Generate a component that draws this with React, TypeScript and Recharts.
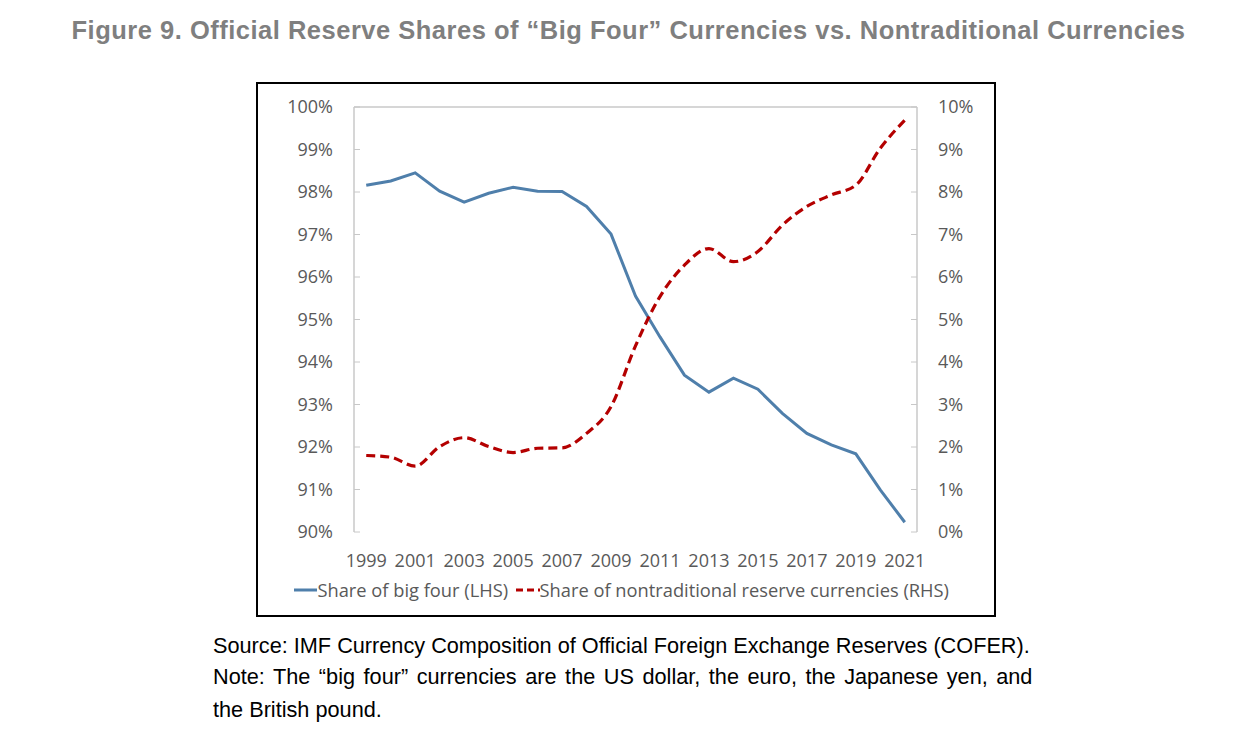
import React from "react";
import { Legend, Line, LineChart, ReferenceLine, XAxis, YAxis } from "recharts";

const YEARS = [
  1999, 2000, 2001, 2002, 2003, 2004, 2005, 2006, 2007, 2008, 2009, 2010,
  2011, 2012, 2013, 2014, 2015, 2016, 2017, 2018, 2019, 2020, 2021,
];
const BIG_FOUR = [
  98.16, 98.26, 98.45, 98.02, 97.76, 97.97, 98.11, 98.02, 98.01, 97.66, 97.01, 95.55,
  94.59, 93.69, 93.29, 93.62, 93.36, 92.79, 92.32, 92.05, 91.84, 90.99, 90.23,
];
const NONTRAD = [
  1.8, 1.76, 1.55, 2.01, 2.22, 2.01, 1.87, 1.97, 1.98, 2.32, 2.95, 4.38,
  5.54, 6.28, 6.67, 6.36, 6.6, 7.22, 7.66, 7.93, 8.16, 9.03, 9.69,
];
const LEFT_TICKS = [90, 91, 92, 93, 94, 95, 96, 97, 98, 99, 100];
const RIGHT_TICKS = [0, 1, 2, 3, 4, 5, 6, 7, 8, 9, 10];
const YEAR_LABELS = [1999, 2001, 2003, 2005, 2007, 2009, 2011, 2013, 2015, 2017, 2019, 2021];
const CATEGORY_EDGES = [...YEARS.map((y) => y - 0.5), 2021.5];

const data = YEARS.map((year, i) => ({
  year,
  bigFour: BIG_FOUR[i],
  nontrad: NONTRAD[i],
}));

const BLUE = "#4f7fab";
const RED = "#b40000";
const AXIS = "#c8c8c8";
const TEXT = "#595959";
const FONT = "'Open Sans', sans-serif";

function LegendContent() {
  return (
    <div
      style={{
        height: 40,
        display: "flex",
        justifyContent: "center",
        alignItems: "flex-start",
        paddingTop: 3,
        paddingRight: 28,
        boxSizing: "border-box",
        fontFamily: FONT,
        fontSize: 18.3,
        color: TEXT,
        lineHeight: "24px",
        whiteSpace: "nowrap",
      }}
    >
      <svg width={30} height={24}>
        <line x1={0} y1={12} x2={30} y2={12} stroke={BLUE} strokeWidth={3} />
      </svg>
      <span style={{ marginRight: 8 }}>Share of big four (LHS)</span>
      <svg width={30} height={24}>
        <line x1={0} y1={12} x2={30} y2={12} stroke={RED} strokeWidth={3} strokeDasharray="7 4" />
      </svg>
      <span>Share of nontraditional reserve currencies (RHS)</span>
    </div>
  );
}

export default function App() {
  return (
    <div style={{ position: "absolute", left: 0, top: 0, width: 1257, height: 750, background: "#fff" }}>
      <div
        style={{
          position: "absolute",
          left: 0,
          top: 16,
          width: 1257,
          textAlign: "center",
          fontFamily: "'Liberation Sans', Arial, sans-serif",
          fontWeight: "bold",
          fontSize: 25.5,
          letterSpacing: 0.5,
          color: "#7f7f7f",
          whiteSpace: "nowrap",
        }}
      >
        Figure 9. Official Reserve Shares of “Big Four” Currencies vs. Nontraditional Currencies
      </div>

      <div
        style={{
          position: "absolute",
          left: 256,
          top: 82,
          width: 740,
          height: 535,
          border: "2px solid #000",
          boxSizing: "border-box",
        }}
      >
        <LineChart
          width={736}
          height={531}
          data={data}
          margin={{ top: 23, right: 17, left: 36, bottom: 0 }}
          style={{ fontFamily: FONT }}
        >
          <XAxis
            xAxisId="edges"
            dataKey="year"
            type="number"
            domain={[1998.5, 2021.5]}
            ticks={CATEGORY_EDGES}
            tickFormatter={() => ""}
            height={0}
            tickSize={-6}
            stroke={AXIS}
            tickLine={{ stroke: AXIS }}
            axisLine={{ stroke: AXIS, strokeWidth: 1.5 }}
            interval={0}
          />
          <XAxis
            xAxisId="years"
            dataKey="year"
            type="number"
            domain={[1998.5, 2021.5]}
            ticks={YEAR_LABELS}
            height={43}
            tickSize={0}
            tickMargin={22}
            tickLine={false}
            axisLine={false}
            interval={0}
            tick={{ fill: TEXT, fontSize: 18 }}
          />
          <YAxis
            yAxisId="left"
            orientation="left"
            domain={[90, 100]}
            ticks={LEFT_TICKS}
            width={60}
            tickSize={-6}
            tickMargin={27}
            interval={0}
            tickFormatter={(v) => `${v}%`}
            tick={{ fill: TEXT, fontSize: 18 }}
            tickLine={{ stroke: AXIS }}
            axisLine={{ stroke: AXIS, strokeWidth: 1.5 }}
          />
          <YAxis
            yAxisId="right"
            orientation="right"
            domain={[0, 10]}
            ticks={RIGHT_TICKS}
            width={60}
            tickSize={-6}
            tickMargin={27}
            interval={0}
            tickFormatter={(v) => `${v}%`}
            tick={{ fill: TEXT, fontSize: 18 }}
            tickLine={{ stroke: AXIS }}
            axisLine={{ stroke: AXIS, strokeWidth: 1.5 }}
          />
          <ReferenceLine yAxisId="left" xAxisId="edges" y={100} stroke={AXIS} strokeWidth={1.5} />
          <Legend verticalAlign="bottom" content={<LegendContent />} />
          <Line
            xAxisId="edges"
            yAxisId="left"
            type="linear"
            dataKey="bigFour"
            name="Share of big four (LHS)"
            stroke={BLUE}
            strokeWidth={3}
            dot={false}
            isAnimationActive={false}
          />
          <Line
            xAxisId="edges"
            yAxisId="right"
            type="monotone"
            dataKey="nontrad"
            name="Share of nontraditional reserve currencies (RHS)"
            stroke={RED}
            strokeWidth={3.2}
            strokeDasharray="9 5"
            dot={false}
            isAnimationActive={false}
          />
        </LineChart>
      </div>

      <div
        style={{
          position: "absolute",
          left: 213,
          top: 630,
          fontFamily: "'Liberation Sans', Arial, sans-serif",
          fontSize: 21.7,
          color: "#000",
          lineHeight: "31px",
          whiteSpace: "nowrap",
        }}
      >
        <div>Source: IMF Currency Composition of Official Foreign Exchange Reserves (COFER).</div>
        <div style={{ wordSpacing: 2.5 }}>Note: The “big four” currencies are the US dollar, the euro, the Japanese yen, and</div>
        <div style={{ marginTop: 2 }}>the British pound.</div>
      </div>
    </div>
  );
}
